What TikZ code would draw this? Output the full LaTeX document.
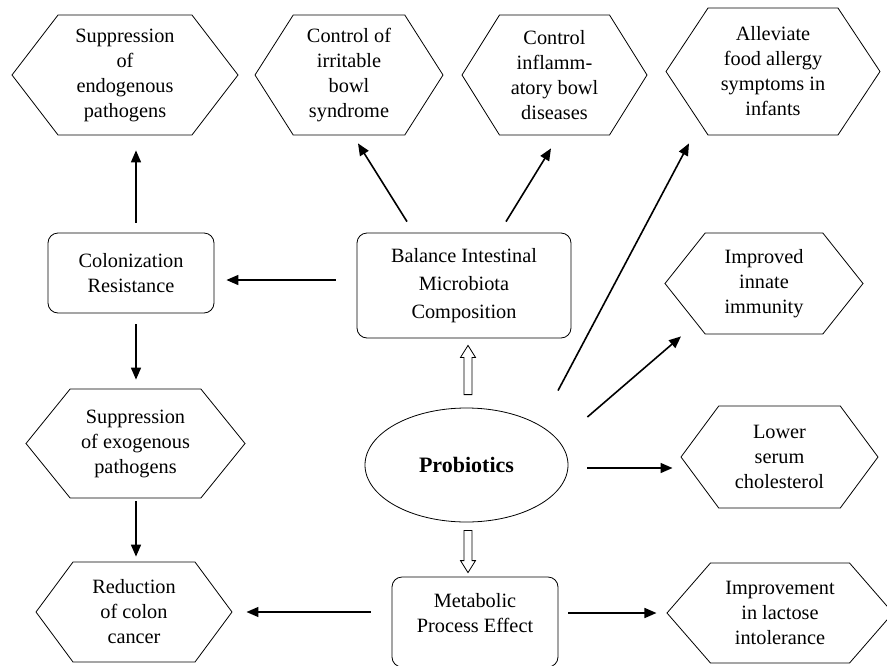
\documentclass[tikz,border=0pt]{standalone}
\usepackage{fontspec}
\setmainfont{Liberation Serif}
\usetikzlibrary{shapes.geometric,shapes.symbols,arrows.meta}

\begin{document}
\begin{tikzpicture}[x=1pt, y=-1pt,
  font=\fontsize{20.3}{25}\selectfont,
  hex/.style={draw, line width=0.8pt, signal, signal to=west and east, align=center, inner sep=0pt},
  box/.style={draw, line width=0.8pt, rounded corners=10pt, align=center, inner sep=0pt},
  arr/.style={line width=1.6pt, -{Triangle[length=12pt,width=10pt]}},
  hollow/.style={line width=0.8pt, fill=white}]
\useasboundingbox (0,0) rectangle (887,665);
		\node[hex, minimum width=226pt, minimum height=120pt, signal pointer angle=105] (endo) at (125,75) {Suppression\\of\\endogenous\\pathogens};
		\node[hex, minimum width=188pt, minimum height=120pt, signal pointer angle=115] (ibs) at (349,75) {Control of\\irritable\\bowl\\syndrome};
		\node[hex, minimum width=185pt, minimum height=120pt, signal pointer angle=116] (ibd) at (554.5,75) {Control\\inflamm-\\atory bowl\\diseases};
		\node[hex, minimum width=214pt, minimum height=127pt, signal pointer angle=113] (allergy) at (773,71.5) {Alleviate\\food allergy\\symptoms in\\infants};
		\node[hex, minimum width=198pt, minimum height=101pt, signal pointer angle=103] (immune) at (764,283.5) {Improved\\innate\\immunity};
		\node[hex, minimum width=197pt, minimum height=102pt, signal pointer angle=107] (chol) at (779.5,457) {Lower\\serum\\cholesterol};
		\node[hex, minimum width=226pt, minimum height=100pt, signal pointer angle=98] (lactose) at (780,613) {Improvement\\in lactose\\intolerance};
		\node[hex, minimum width=219pt, minimum height=109pt, signal pointer angle=102] (exo) at (135.5,443.5) {Suppression\\of exogenous\\pathogens};
		\node[hex, minimum width=196pt, minimum height=100pt, signal pointer angle=107] (colon) at (134,612) {Reduction\\of colon\\cancer};
		\node[box, minimum width=166pt, minimum height=80pt] (colres) at (131,273) {Colonization\\Resistance};
		\node[box, minimum width=214pt, minimum height=105pt, font=\fontsize{20.3}{28}\selectfont] (balance) at (464,285.5) {Balance Intestinal\\Microbiota\\Composition};
		\node[box, minimum width=166pt, minimum height=90pt, text depth=19pt] (metab) at (475,622) {Metabolic\\Process Effect};
		\node[draw, ellipse, line width=0.8pt, minimum width=203pt, minimum height=114pt, inner sep=0pt, font=\fontsize{22}{25}\selectfont\bfseries] (prob) at (466.5,465) {Probiotics};
		\coordinate (uptip) at ([shift={(4pt,-7pt)}]balance.south);
		\coordinate (upfoot) at ([shift={(1.5pt,13pt)}]prob.north);
		\coordinate (dntip) at ([shift={(-7pt,4pt)}]metab.north);
		\coordinate (dnfoot) at ([shift={(1.5pt,-8pt)}]prob.south);
		\draw[arr]([shift={(5pt,10pt)}]colres.north) -- ([shift={(11pt,-15pt)}]endo.south);
		\draw[arr]([shift={(-57pt,11pt)}]balance.north) -- ([shift={(9pt,-8pt)}]ibs.south);
		\draw[arr]([shift={(42pt,11pt)}]balance.north) -- ([shift={(-3.5pt,-13pt)}]ibd.south);
		\draw[arr]([shift={(91.5pt,17pt)}]prob.north) -- ([shift={(-84pt,-8pt)}]allergy.south);
		\draw[arr]([shift={(19pt,48pt)}]prob.east) -- ([shift={(-83pt,-2pt)}]immune.south);
		\draw[arr]([shift={(19pt,-3pt)}]prob.east) -- ([shift={(-8pt,-11pt)}]chol.west);
		\draw[arr]([shift={(10pt,9pt)}]metab.east) -- ([shift={(-10pt,0pt)}]lactose.west);
		\draw[arr]([shift={(-21pt,10pt)}]metab.west) -- ([shift={(14pt,0pt)}]colon.east);
		\draw[arr]([shift={(0.5pt,-3pt)}]exo.south) -- ([shift={(2pt,5pt)}]colon.north);
		\draw[arr]([shift={(5pt,-11pt)}]colres.south) -- ([shift={(0.5pt,9pt)}]exo.north);
		\draw[arr]([shift={(-21pt,5.5pt)}]balance.west) -- ([shift={(12pt,-7pt)}]colres.east);
		\draw[hollow](uptip) -- ++(7.5,12) -- ++(-3.5,0) -- ([xshift=4pt]upfoot) -- ([xshift=-4pt]upfoot) -- ([shift={(-4pt,-12pt)}]uptip) -- ++(-3.5,0) -- cycle;
		\draw[hollow](dntip) -- ++(7.5,-12) -- ++(-3.5,0) -- ([xshift=4pt]dnfoot) -- ([xshift=-4pt]dnfoot) -- ([shift={(-4pt,12pt)}]dntip) -- ++(-3.5,0) -- cycle;
		\end{tikzpicture}
\end{document}
